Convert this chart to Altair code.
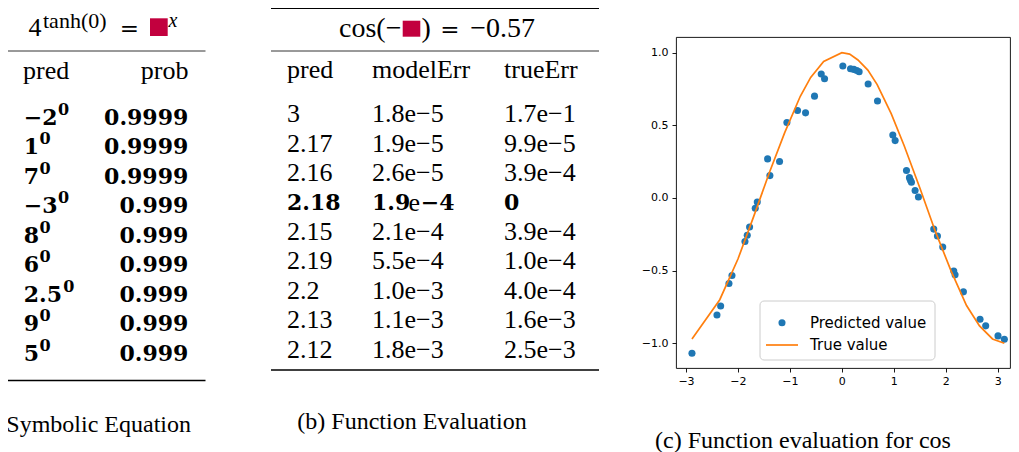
import altair as alt
import pandas as pd

# ---------------- data ----------------
# (a) symbolic equation table
a_title = ["4", "tanh(0)", "=", "x"]
a_cols = ["pred", "prob"]
a_pred_base = ["−2", "1", "7", "−3", "8", "6", "2.5", "9", "5"]
a_pred_exp = ["0", "0", "0", "0", "0", "0", "0", "0", "0"]
a_prob = ["0.9999", "0.9999", "0.9999", "0.999", "0.999", "0.999", "0.999", "0.999", "0.999"]

# (b) function evaluation table
b_title = ["cos(−", ")", "=", "−0.57"]
b_cols = ["pred", "modelErr", "trueErr"]
b_pred = ["3", "2.17", "2.16", "2.18", "2.15", "2.19", "2.2", "2.13", "2.12"]
b_model = ["1.8e−5", "1.9e−5", "2.6e−5", "1.9e−4", "2.1e−4", "5.5e−4", "1.0e−3", "1.1e−3", "1.8e−3"]
b_true = ["1.7e−1", "9.9e−5", "3.9e−4", "0", "3.9e−4", "1.0e−4", "4.0e−4", "1.6e−3", "2.5e−3"]
b_best = 3  # bold row

# (c) function evaluation for cos
pred_x = [-2.885, -2.404, -2.333, -2.173, -2.115, -1.865, -1.821, -1.776, -1.667, -1.628,
          -1.429, -1.385, -1.199, -1.058, -0.853, -0.699, -0.526, -0.397, -0.333, 0.019,
          0.167, 0.231, 0.288, 0.333, 0.506, 0.686, 0.981, 1.026, 1.244, 1.301,
          1.321, 1.340, 1.410, 1.474, 1.769, 1.840, 1.942, 2.154, 2.179, 2.340,
          2.660, 2.769, 3.006, 3.128]
pred_y = [-1.069, -0.805, -0.743, -0.589, -0.533, -0.299, -0.257, -0.200, -0.071, -0.028,
          0.269, 0.154, 0.251, 0.520, 0.602, 0.586, 0.701, 0.853, 0.821, 0.908,
          0.890, 0.885, 0.878, 0.869, 0.784, 0.667, 0.434, 0.395, 0.189, 0.140,
          0.122, 0.108, 0.051, 0.007, -0.214, -0.262, -0.338, -0.503, -0.529, -0.646,
          -0.834, -0.880, -0.949, -0.972]
true_x = [-2.885, -2.35, -2.0, -1.7, -1.4, -1.1, -0.8, -0.6, -0.35, 0.0, 0.15, 0.31,
          0.5, 0.68, 0.95, 1.2, 1.5, 1.8, 2.1, 2.4, 2.65, 2.9, 3.128]
true_y = [-0.97, -0.70, -0.42, -0.13, 0.17, 0.45, 0.70, 0.83, 0.94, 1.00, 0.99, 0.95,
          0.88, 0.78, 0.58, 0.36, 0.07, -0.23, -0.50, -0.74, -0.88, -0.97, -1.00]
x_ticks = [-3, -2, -1, 0, 1, 2, 3]
y_ticks = [-1.0, -0.5, 0.0, 0.5, 1.0]
legend_labels = ["Predicted value", "True value"]
captions = ["(a) Symbolic Equation", "(b) Function Evaluation", "(c) Function evaluation for cos"]

# ---------------- style ----------------
SERIF = "Liberation Serif"
MATHB = "DejaVu Serif"
SANS = "DejaVu Sans"
INK = "black"
SQUARE = "#c2003e"
BLUE = "#1f77b4"
ORANGE = "#ff7f0e"
BOLD_SIZE = 22


def bold_width(s, size=BOLD_SIZE):
    # advance widths of DejaVu Serif Bold glyphs (em units)
    em = {"−": 0.838, ".": 0.380}
    return sum(em.get(c, 0.696) for c in s) * size


def scales(w, h):
    return (alt.Scale(domain=[0, w], nice=False, zero=False),
            alt.Scale(domain=[0, h], nice=False, zero=False, reverse=True))


def text_layers(df, sx, sy, styles):
    out = []
    for key, props in styles.items():
        out.append(
            alt.Chart(df).transform_filter(alt.datum.style == key)
            .mark_text(color=INK, **props)
            .encode(x=alt.X("x:Q", scale=sx, axis=None),
                    y=alt.Y("y:Q", scale=sy, axis=None),
                    text="text:N"))
    return out


def rule_layer(df, sx, sy):
    return alt.Chart(df).mark_rule(color=INK).encode(
        x=alt.X("x1:Q", scale=sx, axis=None), x2="x2:Q",
        y=alt.Y("y:Q", scale=sy, axis=None),
        strokeWidth=alt.StrokeWidth("w:Q", scale=None))


def square_layer(df, sx, sy):
    return alt.Chart(df).mark_rect(color=SQUARE).encode(
        x=alt.X("x1:Q", scale=sx, axis=None), x2="x2:Q",
        y=alt.Y("y1:Q", scale=sy, axis=None), y2="y2:Q")


# ---------------- panel (a) ----------------
WA, HA = 265, 445
sxA, syA = scales(WA, HA)
rows = [
    (a_title[0], 22.5, 30.5, "big"),
    (a_title[1], 37.0, 22.5, "sup"),
    (a_title[2], 123.3, 30.5, "eq"),
    (a_title[3], 162.5, 22.0, "supi"),
    (a_cols[0], 17, 66, "colL"),
    (a_cols[1], 182.5, 66, "colR"),
    (captions[0], 185, 420, "cap"),
]
for i in range(len(a_pred_base)):
    yy = 112.5 + 29.5 * i
    rows.append((a_pred_base[i], 17.7, yy, "bL"))
    rows.append((a_pred_exp[i], 17.7 + bold_width(a_pred_base[i]) + 0.5, yy - 2.6, "bsup"))
    rows.append((a_prob[i], 182.3, yy, "bR"))
dfA = pd.DataFrame(rows, columns=["text", "x", "y", "style"])
stylesA = {
    "big": dict(font=SERIF, fontSize=26, align="left", baseline="alphabetic"),
    "sup": dict(font=SERIF, fontSize=22, align="left", baseline="alphabetic"),
    "eq": dict(font=MATHB, fontSize=23, align="center", baseline="alphabetic"),
    "supi": dict(font=SERIF, fontSize=20, fontStyle="italic", align="left", baseline="alphabetic"),
    "colL": dict(font=SERIF, fontSize=26, align="left", baseline="middle"),
    "colR": dict(font=SERIF, fontSize=26, align="right", baseline="middle"),
    "bL": dict(font=MATHB, fontSize=BOLD_SIZE, fontWeight="bold", align="left", baseline="middle"),
    "bsup": dict(font=MATHB, fontSize=16, fontWeight="bold", align="left", baseline="alphabetic"),
    "bR": dict(font=MATHB, fontSize=BOLD_SIZE, fontWeight="bold", align="right", baseline="middle"),
    "cap": dict(font=SERIF, fontSize=24, align="right", baseline="middle", clip=True),
}
rulesA = pd.DataFrame({"x1": [0, 0, 0], "x2": [199.5, 199.5, 199.5],
                       "y": [0.7, 46, 375.5], "w": [1.3, 0.8, 1.3]})
sqA = pd.DataFrame({"x1": [144], "x2": [161.7], "y1": [13.3], "y2": [31]})
panelA = alt.layer(rule_layer(rulesA, sxA, syA), square_layer(sqA, sxA, syA),
                   *text_layers(dfA, sxA, syA, stylesA)).properties(width=WA, height=HA)

# ---------------- panel (b) ----------------
WB, HB = 405, 445
sxB, syB = scales(WB, HB)
rows = [
    (b_title[0], 130.5, 31.7, "hR"),
    (b_title[1], 150.5, 31.7, "hL"),
    (b_title[2], 179, 31.7, "eq"),
    (b_title[3], 264, 31.7, "hR"),
    (b_cols[0], 16, 65.3, "colL"),
    (b_cols[1], 101, 65.3, "colL"),
    (b_cols[2], 233, 65.3, "colL"),
    (captions[1], 141, 417, "cap"),
]
for i in range(len(b_pred)):
    yy = 109.3 + 29.4 * i
    if i == b_best:
        rows.append((b_pred[i], 16, yy, "bL"))
        m = b_model[i].split("e")
        rows.append((m[0], 101, yy, "bL"))
        rows.append(("e", 137.5, yy, "nL"))
        rows.append((m[1], 183.5, yy, "bR"))
        rows.append((b_true[i], 233, yy, "bL"))
    else:
        rows.append((b_pred[i], 16, yy, "nL"))
        rows.append((b_model[i], 101, yy, "nL"))
        rows.append((b_true[i], 233, yy, "nL"))
dfB = pd.DataFrame(rows, columns=["text", "x", "y", "style"])
stylesB = {
    "hR": dict(font=SERIF, fontSize=28, align="right", baseline="alphabetic"),
    "hL": dict(font=SERIF, fontSize=28, align="left", baseline="alphabetic"),
    "eq": dict(font=MATHB, fontSize=23, align="center", baseline="alphabetic"),
    "colL": dict(font=SERIF, fontSize=26, align="left", baseline="middle"),
    "nL": dict(font=SERIF, fontSize=26, align="left", baseline="middle"),
    "bL": dict(font=MATHB, fontSize=BOLD_SIZE, fontWeight="bold", align="left", baseline="middle"),
    "bR": dict(font=MATHB, fontSize=BOLD_SIZE, fontWeight="bold", align="right", baseline="middle"),
    "cap": dict(font=SERIF, fontSize=24, align="center", baseline="middle"),
}
rulesB = pd.DataFrame({"x1": [0, 0, 0], "x2": [328, 328, 328],
                       "y": [3.3, 46, 365], "w": [1.3, 0.8, 1.3]})
sqB = pd.DataFrame({"x1": [131.7], "x2": [149.3], "y1": [15.7], "y2": [31.7]})
panelB = alt.layer(rule_layer(rulesB, sxB, syB), square_layer(sqB, sxB, syB),
                   *text_layers(dfB, sxB, syB, stylesB)).properties(width=WB, height=HB)

# ---------------- panel (c) ----------------
WC, HC = 334, 331
scx = alt.Scale(domain=[-3.1925, -3.1925 + WC / 51.95], nice=False, zero=False)
scy = alt.Scale(domain=[-1.170, 1.108], nice=False, zero=False)
ax_common = dict(grid=False, domain=False, tickSize=4, tickColor=INK, tickWidth=0.9,
                 labelFont=SANS, labelFontSize=11, labelColor=INK, title=None)
xaxis = alt.Axis(values=x_ticks, format="d", labelPadding=3, **ax_common)
yaxis = alt.Axis(values=y_ticks, format=".1f", labelPadding=4, **ax_common)

dfP = pd.DataFrame({"x": pred_x, "y": pred_y})
dfT = pd.DataFrame({"x": true_x, "y": true_y})
one = pd.DataFrame({"k": [0]})

pts = alt.Chart(dfP).mark_circle(size=50, color=BLUE, opacity=1).encode(
    x=alt.X("x:Q", scale=scx, axis=xaxis), y=alt.Y("y:Q", scale=scy, axis=yaxis))
line = alt.Chart(dfT).mark_line(color=ORANGE, strokeWidth=1.7).encode(
    x=alt.X("x:Q", scale=scx), y=alt.Y("y:Q", scale=scy))
leg_box = alt.Chart(one).mark_rect(fill="white", fillOpacity=0.8, stroke="#cccccc",
                                   strokeWidth=1, cornerRadius=4).encode(
    x=alt.value(84), x2=alt.value(259), y=alt.value(264), y2=alt.value(323))
leg_dot = alt.Chart(one).mark_circle(size=50, color=BLUE, opacity=1).encode(
    x=alt.value(106), y=alt.value(285.7))
leg_line = alt.Chart(one).mark_rule(color=ORANGE, strokeWidth=1.7).encode(
    x=alt.value(90), x2=alt.value(122), y=alt.value(308))
leg_t1 = alt.Chart(one).mark_text(font=SANS, fontSize=15, align="left", baseline="middle",
                                  color=INK).encode(
    x=alt.value(134), y=alt.value(285.7), text=alt.value(legend_labels[0]))
leg_t2 = alt.Chart(one).mark_text(font=SANS, fontSize=15, align="left", baseline="middle",
                                  color=INK).encode(
    x=alt.value(134), y=alt.value(308), text=alt.value(legend_labels[1]))

plotC = alt.layer(pts, line, leg_box, leg_dot, leg_line, leg_t1, leg_t2,
                  view=alt.ViewBackground(stroke=INK, strokeWidth=0.9)).properties(
    width=WC, height=HC)

spacer = alt.Chart(one).mark_point(opacity=0).properties(width=WC, height=32)
sxC, syC = scales(WC, 82)
capC = alt.Chart(pd.DataFrame({"text": [captions[2]], "x": [127], "y": [73]})).mark_text(
    font=SERIF, fontSize=24, align="center", baseline="middle", color=INK).encode(
    x=alt.X("x:Q", scale=sxC, axis=None), y=alt.Y("y:Q", scale=syC, axis=None),
    text="text:N").properties(width=WC, height=82)

panelC = alt.vconcat(spacer, plotC, capC, spacing=0, bounds="flush")

chart = alt.hconcat(panelA, panelB, panelC, spacing=0, bounds="flush").properties(
    padding={"left": -3, "top": -3, "right": 0, "bottom": 0}
).configure(background="white").configure_view(stroke=None)

chart.save("out.html", embed_options={"renderer": "svg", "actions": False})
